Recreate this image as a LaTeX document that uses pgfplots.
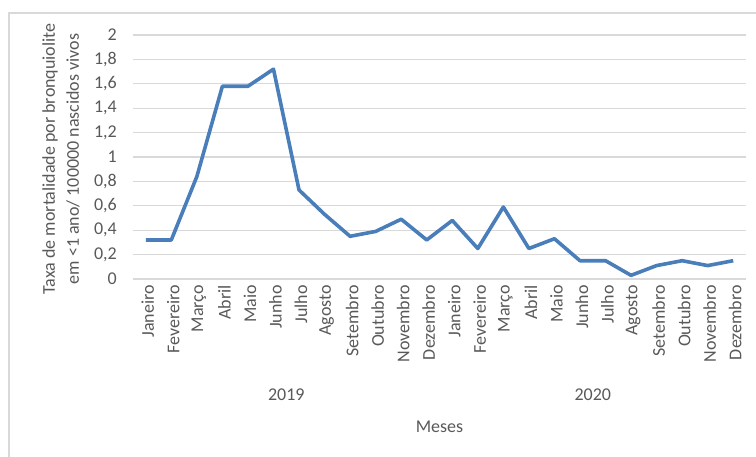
\documentclass[border=0pt]{standalone}
\usepackage{fontspec}
\setmainfont{Carlito}
\usepackage{pgfplots}
\pgfplotsset{compat=1.18}
\definecolor{linec}{HTML}{4A7EBB}
\definecolor{txt}{HTML}{595959}
\definecolor{gridc}{HTML}{D9D9D9}
\begin{document}
\fontsize{18}{24}\selectfont
\begin{tikzpicture}[x=1pt,y=1pt]
\path[use as bounding box] (0,0) rectangle (756,456);
\draw[gridc, line width=1.2pt] (9,-5) -- (9,443) -- (770,443);
\begin{axis}[
  at={(133pt,177pt)}, anchor=south west,
  scale only axis, width=613pt, height=244pt,
  xmin=-0.5, xmax=23.5, ymin=0, ymax=2,
  ytick={0,0.2,0.4,0.6,0.8,1,1.2,1.4,1.6,1.8,2},
  xtick={0,...,23},
  xticklabels={Janeiro,Fevereiro,Março,Abril,Maio,Junho,Julho,Agosto,Setembro,Outubro,Novembro,Dezembro,Janeiro,Fevereiro,Março,Abril,Maio,Junho,Julho,Agosto,Setembro,Outubro,Novembro,Dezembro},
  axis line style={draw=none},
  major tick length=0pt,
  ymajorgrids,
  grid style={gridc, line width=1.2pt},
  tick label style={txt, font=\fontsize{18}{21}\selectfont},
  yticklabel style={xshift=-10pt, /pgf/number format/.cd, use comma, fixed, assume math mode=true},
  xticklabel style={rotate=90, anchor=east, yshift=-2pt},
  clip=false,
]
\addplot[linec, line width=3.6pt, line join=round] coordinates {
(0,0.32) (1,0.32) (2,0.84) (3,1.58) (4,1.58) (5,1.72) (6,0.73) (7,0.53) (8,0.35) (9,0.39) (10,0.49) (11,0.32)
(12,0.48) (13,0.25) (14,0.59) (15,0.25) (16,0.33) (17,0.15) (18,0.15) (19,0.03) (20,0.11) (21,0.15) (22,0.11) (23,0.15)
};
\node[txt] at ([yshift=-116pt]axis cs:5.5,0) {2019};
\node[txt] at ([yshift=-116pt]axis cs:17.5,0) {2020};
\node[txt] at ([yshift=-148pt]axis cs:11.5,0) {Meses};
\end{axis}
\node[txt, rotate=90, align=center] at (61,297) {Taxa de mortalidade por bronquiolite\\em <1 ano/ 100000 nascidos vivos};
\end{tikzpicture}
\end{document}
